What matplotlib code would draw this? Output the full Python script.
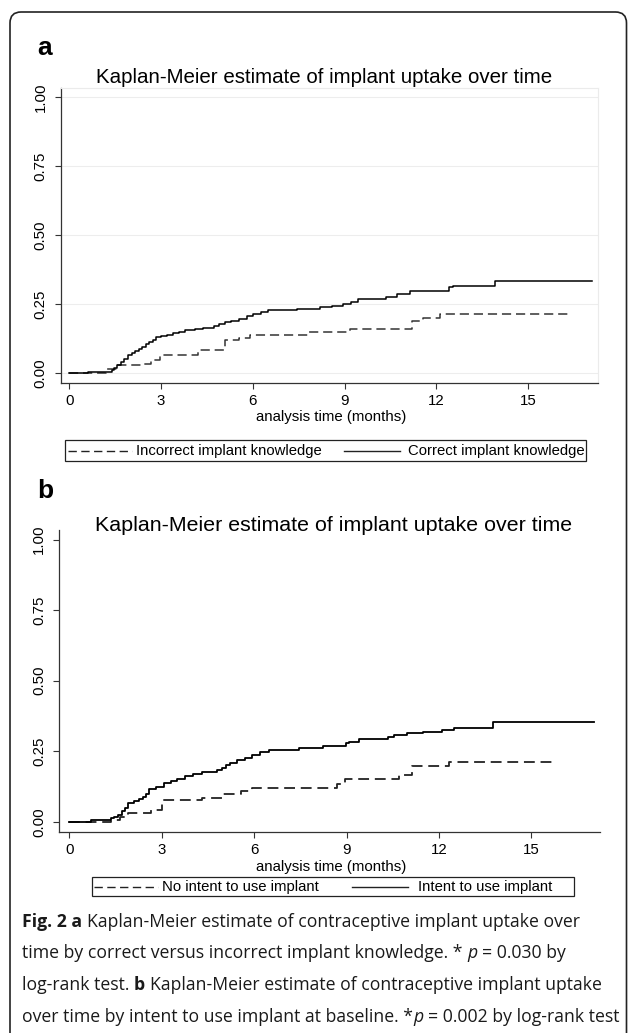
import matplotlib
matplotlib.use('Agg')
import matplotlib.pyplot as plt
from matplotlib.patches import FancyBboxPatch, Rectangle
from matplotlib.lines import Line2D
from matplotlib.transforms import IdentityTransform

W, H = 628, 1033

# ---- data (months, cumulative uptake) ----
a_correct_t = [0, 0.62, 1.38, 1.47, 1.56, 1.7, 1.8, 1.91, 2.05, 2.15, 2.27, 2.38, 2.5, 2.62,
               2.73, 2.85, 3.0, 3.2, 3.4, 3.6, 3.79, 4.1, 4.38, 4.73, 4.9, 5.08, 5.3, 5.55,
               5.8, 6.02, 6.25, 6.49, 7.43, 8.19, 8.6, 8.96, 9.2, 9.42, 10.36, 10.72, 11.13,
               12.42, 12.53, 13.9, 17.1]
a_correct_s = [0, 0.005, 0.012, 0.02, 0.029, 0.04, 0.052, 0.065, 0.072, 0.08, 0.089, 0.097,
               0.107, 0.115, 0.122, 0.13, 0.134, 0.138, 0.145, 0.15, 0.156, 0.161, 0.166,
               0.17, 0.178, 0.186, 0.19, 0.198, 0.206, 0.216, 0.222, 0.228, 0.232, 0.24,
               0.243, 0.252, 0.26, 0.27, 0.277, 0.289, 0.298, 0.313, 0.315, 0.335, 0.335]
a_incorrect_t = [0, 1.2, 1.56, 2.4, 2.68, 2.98, 4.2, 5.1, 5.55, 5.9, 7.84, 9.19, 11.19,
                 11.56, 12.12, 16.3]
a_incorrect_s = [0, 0.017, 0.029, 0.035, 0.047, 0.065, 0.083, 0.12, 0.129, 0.138, 0.15,
                 0.162, 0.19, 0.202, 0.216, 0.216]

b_intent_t = [0, 0.72, 1.35, 1.45, 1.58, 1.7, 1.8, 1.92, 2.1, 2.25, 2.38, 2.5, 2.6, 2.8,
              3.06, 3.3, 3.5, 3.75, 4.0, 4.32, 4.78, 4.95, 5.1, 5.23, 5.45, 5.7, 5.92, 6.2,
              6.49, 7.47, 8.25, 8.98, 9.09, 9.4, 10.34, 10.55, 10.96, 11.49, 12.1, 12.48,
              13.76, 17.05]
b_intent_s = [0, 0.006, 0.012, 0.018, 0.024, 0.038, 0.05, 0.065, 0.075, 0.082, 0.089, 0.1,
              0.115, 0.125, 0.136, 0.145, 0.152, 0.162, 0.168, 0.175, 0.183, 0.192, 0.2,
              0.209, 0.218, 0.227, 0.236, 0.246, 0.256, 0.26, 0.27, 0.278, 0.284, 0.293,
              0.299, 0.307, 0.316, 0.319, 0.325, 0.333, 0.353, 0.353]
b_nointent_t = [0, 1.35, 1.63, 1.92, 2.66, 3.0, 4.32, 5.0, 5.58, 5.92, 8.7, 8.95, 10.72,
                11.12, 12.32, 15.8]
b_nointent_s = [0, 0.006, 0.018, 0.03, 0.041, 0.077, 0.086, 0.098, 0.11, 0.12, 0.133,
                0.153, 0.165, 0.197, 0.213, 0.213]

x_ticks = [0, 3, 6, 9, 12, 15]
y_ticks = [0, 0.25, 0.5, 0.75, 1.0]
y_labels = ['0.00', '0.25', '0.50', '0.75', '1.00']

title = 'Kaplan-Meier estimate of implant uptake over time'
xlab = 'analysis time (months)'
legend_a = ['Incorrect implant knowledge', 'Correct implant knowledge']
legend_b = ['No intent to use implant', 'Intent to use implant']

caption = [
    [('Fig. 2 a', 'bold', 'normal'), (' ', None, None),
     ('Kaplan-Meier estimate of contraceptive implant uptake over', 'normal', 'normal')],
    [('time by correct versus incorrect implant knowledge. *', 'normal', 'normal'), (' ', None, None),
     ('p', 'normal', 'italic'), (' ', None, None), ('= 0.030 by', 'normal', 'normal')],
    [('log-rank test.', 'normal', 'normal'), (' ', None, None), ('b', 'bold', 'normal'),
     (' ', None, None), ('Kaplan-Meier estimate of contraceptive implant uptake', 'normal', 'normal')],
    [('over time by intent to use implant at baseline. *', 'normal', 'normal'),
     ('p', 'normal', 'italic'), (' ', None, None), ('= 0.002 by log-rank test', 'normal', 'normal')],
]
caption_widths = [600, 576, 576, 598]

plt.rcParams['font.family'] = ['Liberation Sans', 'DejaVu Sans']

fig = plt.figure(figsize=(W / 100, H / 100), dpi=100)
DASH = (6, 3.2)


def fx(x):
    return x / W


def fy(y):
    return 1 - y / H


def panel(left, right, top, bottom, xlim, ylim, grid):
    ax = fig.add_axes([fx(left), fy(bottom), (right - left) / W, (bottom - top) / H])
    ax.set_xlim(*xlim)
    ax.set_ylim(*ylim)
    ax.set_xticks(x_ticks)
    ax.set_yticks(y_ticks)
    ax.set_yticklabels(y_labels, rotation=90, va='center')
    ax.tick_params(direction='out', length=4.5, width=0.8, color='#333333',
                   labelsize=10.8, pad=3.5)
    ax.tick_params(axis='y', pad=5)
    for s in ['left', 'bottom']:
        ax.spines[s].set_color('#333333')
        ax.spines[s].set_linewidth(0.9)
    for s in ['top', 'right']:
        if grid:
            ax.spines[s].set_color('#ebebeb')
            ax.spines[s].set_linewidth(0.8)
        else:
            ax.spines[s].set_visible(False)
    if grid:
        ax.yaxis.grid(True, color='#ededed', lw=0.8)
        ax.set_axisbelow(True)
    ax.set_xlabel(xlab, fontsize=10.8, va='center')
    return ax


# ---- panel a ----
ax1 = panel(60.7, 598, 88, 382.7, (-0.281, 17.28), (-0.034, 1.034), True)
ax1.step(a_incorrect_t, a_incorrect_s, where='post', color='#333333', lw=1.1, dashes=DASH)
ax1.step(a_correct_t, a_correct_s, where='post', color='black', lw=1.1)
ax1.xaxis.set_label_coords(0.503, -34.3 / 294.7)

# ---- panel b ----
ax2 = panel(59.3, 600, 530, 831.7, (-0.325, 17.23), (-0.035, 1.034), False)
ax2.step(b_nointent_t, b_nointent_s, where='post', color='#222222', lw=1.3, dashes=DASH)
ax2.step(b_intent_t, b_intent_s, where='post', color='black', lw=1.3)
ax2.xaxis.set_label_coords(0.502, -35.0 / 301.7)

# titles and panel letters
fig.text(fx(324), fy(83), title, ha='center', va='baseline', fontsize=14.8)
fig.text(fx(334), fy(531), title, ha='center', va='baseline', fontsize=15.4)
fig.text(fx(37), fy(55), 'a', ha='left', va='baseline', fontsize=19, fontweight='bold')
fig.text(fx(37), fy(498), 'b', ha='left', va='baseline', fontsize=19, fontweight='bold')


def legend(box, items, yc):
    x0, x1, y0, y1 = box
    fig.add_artist(Rectangle((fx(x0), fy(y1)), (x1 - x0) / W, (y1 - y0) / H,
                             transform=fig.transFigure, fill=False, ec='#222222', lw=0.9))
    for (l0, l1, tx, label, dashed) in items:
        ln = Line2D([fx(l0), fx(l1)], [fy(yc), fy(yc)], transform=fig.transFigure,
                    color='#222222', lw=1.0)
        if dashed:
            ln.set_dashes(DASH)
        fig.add_artist(ln)
        fig.text(fx(tx), fy(yc), label, ha='left', va='center', fontsize=10.7)


legend((65, 586, 440, 461),
       [(68, 132, 136, legend_a[0], True), (344, 400, 408, legend_a[1], False)], 450.5)
legend((92, 574, 877, 896),
       [(94, 158, 162, legend_b[0], True), (352, 408, 418, legend_b[1], False)], 886.5)

# outer rounded frame
fig.add_artist(FancyBboxPatch((10, -40), 616.5, H - 12 + 40,
                              boxstyle='round,pad=0,rounding_size=11',
                              transform=IdentityTransform(), fill=False,
                              ec='#222222', lw=1.2))

# caption with mixed styles
renderer = fig.canvas.get_renderer()
cfam = ['Open Sans', 'DejaVu Sans']


def width(s, size, weight='normal', style='normal'):
    t = fig.text(0, 0, s, fontsize=size, fontweight=weight, fontstyle=style, family=cfam)
    w = t.get_window_extent(renderer).width
    t.remove()
    return w


def space(size):
    return width('a a', size) - width('aa', size)


def line_width(runs, size):
    tot = 0
    for s, wt, st in runs:
        tot += space(size) if wt is None else width(s, size, wt, st)
    return tot


fs0 = 12.0
fs = min(fs0 * tw / line_width(runs, fs0) for runs, tw in zip(caption, caption_widths))
baselines = [927, 958.5, 990, 1021.5]
for runs, yb in zip(caption, baselines):
    x = 22.0
    for s, wt, st in runs:
        if wt is None:
            x += space(fs)
            continue
        fig.text(fx(x), fy(yb), s, fontsize=fs, fontweight=wt, fontstyle=st,
                 family=cfam, va='baseline', ha='left', color='#1a1a1a')
        x += width(s, fs, wt, st)

fig.savefig('out.png', dpi=100)
